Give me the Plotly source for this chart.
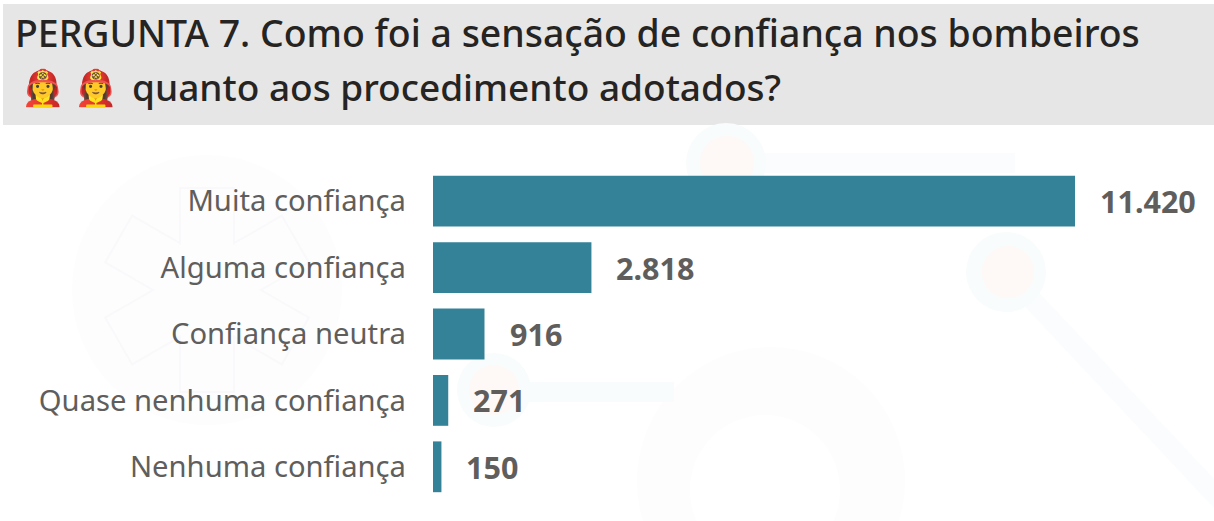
import math
import plotly.graph_objects as go

categories = ["Muita confiança", "Alguma confiança", "Confiança neutra", "Quase nenhuma confiança", "Nenhuma confiança"]
values = [11420, 2818, 916, 271, 150]
value_labels = ["11.420", "2.818", "916", "271", "150"]
title_line1 = "PERGUNTA 7. Como foi a sensação de confiança nos bombeiros"
title_line2 = "quanto aos procedimento adotados?"
emoji = "👩‍🚒"

W, H = 1214, 521
TEAL = "#348297"
GREY = "#605e5c"
FONT = "Noto Sans"
L, T, B = 433, 168, 500

fig = go.Figure(go.Bar(
    y=categories, x=values, orientation="h",
    marker=dict(color=TEAL, line=dict(width=0)),
    width=0.765, hoverinfo="skip",
))


def px(x): return (x - L) / (W - L)
def py(y): return (B - y) / (B - T)


shapes = [dict(type="rect", xref="paper", yref="paper", x0=px(3), x1=1, y0=py(125), y1=py(4),
               fillcolor="#e6e6e6", line_width=0, layer="below")]


def circ(cx, cy, r, color):
    shapes.append(dict(type="circle", xref="paper", yref="paper", x0=px(cx - r), x1=px(cx + r),
                       y0=py(cy + r), y1=py(cy - r), fillcolor=color, line_width=0, layer="below"))


def seg(x0, y0, x1, y1, w, color):
    shapes.append(dict(type="line", xref="paper", yref="paper", x0=px(x0), x1=px(x1), y0=py(y0), y1=py(y1),
                       line=dict(color=color, width=w), layer="below"))


def star(cx, cy, length, half, color):
    pts = []
    for k in range(6):
        a = math.radians(90 + 60 * k)
        ux, uy = math.cos(a), math.sin(a)
        nx, ny = -uy, ux
        tx, ty = cx + ux * length, cy + uy * length
        pts.append((tx - nx * half, ty - ny * half))
        pts.append((tx + nx * half, ty + ny * half))
        m = a + math.radians(30)
        pts.append((cx + math.cos(m) * 2 * half, cy + math.sin(m) * 2 * half))
    path = "M " + " L ".join(f"{px(x):.5f} {py(y):.5f}" for x, y in pts) + " Z"
    shapes.append(dict(type="path", xref="paper", yref="paper", path=path,
                       line=dict(color=color, width=2), layer="below"))


# faint watermark
circ(207, 290, 135, "#fdfdfe")
star(207, 290, 102, 27, "#f9f9fb")
circ(771, 481, 134, "#fdfdfd")
circ(765, 490, 75, "#ffffff")
seg(726, 163, 1015, 163, 20, "#fafcfd")
circ(726, 163, 40, "#f9fcfc")
circ(727, 163, 27, "#fef8f6")
seg(1006, 272, 1225, 505, 20, "#fafcfd")
circ(1006, 272, 40, "#f9fcfc")
circ(1008, 272, 26, "#fef8f6")
seg(494, 392, 674, 392, 20, "#f9fcfc")
circ(494, 390, 37, "#f9fcfc")
circ(494, 390, 25, "#fef8f6")

annotations = [
    dict(xref="paper", yref="paper", x=px(13), y=py(32), xanchor="left", yanchor="middle", showarrow=False,
         text=title_line1, font=dict(family=FONT, size=37.4, color="#252423", weight=500)),
    dict(xref="paper", yref="paper", x=px(130), y=py(86), xanchor="left", yanchor="middle", showarrow=False,
         text=title_line2, font=dict(family=FONT, size=37, color="#252423", weight=500)),
    dict(xref="paper", yref="paper", x=px(19), y=py(86), xanchor="left", yanchor="middle", showarrow=False,
         text=emoji + " " + emoji, font=dict(family=FONT, size=35, color="#d6336c")),
]
for c, v, t in zip(categories, values, value_labels):
    annotations.append(dict(x=v, y=c, xref="x", yref="y", text=t, showarrow=False, xanchor="left",
                            xshift=23, font=dict(family=FONT, size=30.5, color=GREY, weight=700)))

fig.update_layout(
    width=W, height=H, margin=dict(l=L, r=0, t=T, b=H - B),
    paper_bgcolor="#ffffff", plot_bgcolor="rgba(0,0,0,0)", showlegend=False,
    shapes=shapes, annotations=annotations,
    xaxis=dict(range=[0, 13892], visible=False, fixedrange=True),
    yaxis=dict(autorange="reversed", showgrid=False, zeroline=False, showline=False, ticks="",
               ticklabelstandoff=26, tickfont=dict(family=FONT, size=29.2, color=GREY), fixedrange=True),
)

fig.write_html("out.html", config={"displayModeBar": False},
               post_script="document.body.style.margin='0';document.body.style.overflow='hidden';")
